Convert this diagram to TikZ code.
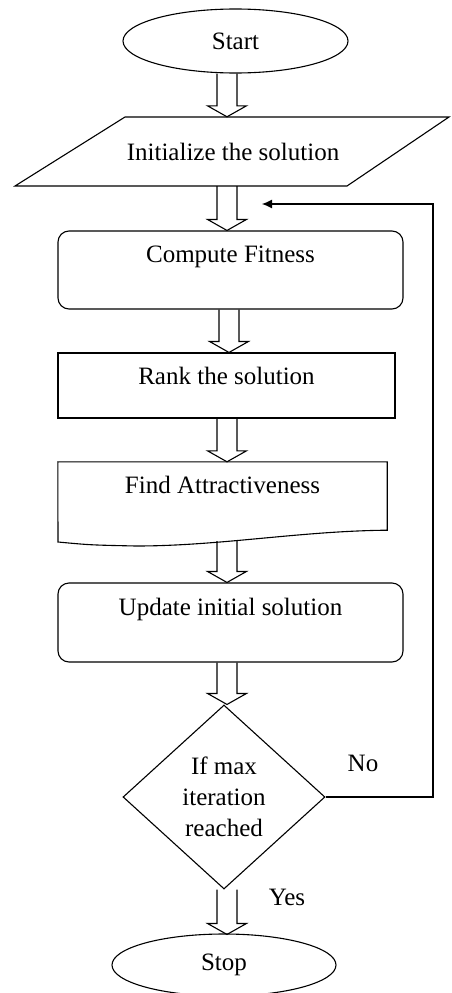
\documentclass[tikz,border=0pt]{standalone}
\usepackage{fontspec}
\setmainfont{Liberation Serif}
\usetikzlibrary{shapes.geometric,arrows.meta,calc}

\tikzset{
  outline/.style={draw=black, line width=1.1pt},
  txt/.style={font=\fontsize{25}{31}\selectfont, inner sep=0pt, align=center},
  terminal/.style={outline, ellipse, inner sep=0pt, font=\fontsize{25}{31}\selectfont},
  procbox/.style={outline, rectangle, rounded corners=11pt, inner sep=0pt},
  plainbox/.style={outline, rectangle, inner sep=0pt},
  ghostbox/.style={rectangle, inner sep=0pt},
  decision/.style={outline, diamond, inner sep=0pt, align=center,
    minimum width=202pt, minimum height=184pt, font=\fontsize{25}{31}\selectfont},
  % hollow block arrow drawn straight down from the start point to the target level
  blockarrow/.style={outline, line join=miter, to path={
    let \p1=(\tikztostart), \p2=(\tikztotarget) in
    (\x1-10pt,\y1) -- (\x1-10pt,\y2+11pt) -- (\x1-19.5pt,\y2+11pt) -- (\x1,\y2)
    -- (\x1+19.5pt,\y2+11pt) -- (\x1+10pt,\y2+11pt) -- (\x1+10pt,\y1)}},
  loopline/.style={draw=black, line width=1.1pt, -{Latex[length=10pt,width=9pt]}},
}

\begin{document}
\begin{tikzpicture}[x=1pt,y=-1pt]
  \useasboundingbox (0,0) rectangle (451,993);

  % flow axis for the block arrows
  \coordinate (ax) at (227,0);
  \coordinate (ax3) at (229,0);

  % start
  \node[terminal, minimum width=225pt, minimum height=64pt] (start) at (235.5,41) {Start};

  % initialise (parallelogram)
  \node[ghostbox, minimum width=220pt, minimum height=69pt] (init) at (233,151.5) {};
  \draw[outline] (125,117) -- (449,117) -- (347,186) -- (15,186) -- cycle;
  \node[txt] (init-t) at (233,152) {Initialize the solution};

  % compute fitness
  \node[procbox, minimum width=345pt, minimum height=78pt] (fit) at (230.5,270) {};
  \node[txt] (fit-t) at ($(fit.north)+(0,26)$) {Compute Fitness};

  % rank
  \node[plainbox, minimum width=337pt, minimum height=65pt] (rank) at (226.5,385.5) {};
  \node[txt] (rank-t) at ($(rank.north)+(0,23)$) {Rank the solution};

  % find attractiveness (document shape)
  \node[ghostbox, minimum width=329pt, minimum height=68pt] (attr) at (222.5,496) {};
  \draw[outline] (attr.south east) -- (attr.north east) -- (attr.north west) -- (58,542)
    .. controls (90,545) .. (136,546)
    .. controls (220,546) and (300,531) .. (attr.south east) -- cycle;
  \node[txt] (attr-t) at ($(attr.north)+(0,23)$) {Find Attractiveness};
  \coordinate (wave) at (227,541);

  % update
  \node[procbox, minimum width=345pt, minimum height=79pt] (upd) at (230.5,622.5) {};
  \node[txt] (upd-t) at ($(upd.north)+(0,27)$) {Update initial solution};

  % decision
  \node[decision] (dec) at (224,797) {If max\\iteration\\reached};

  % stop
  \node[terminal, minimum width=224pt, minimum height=62pt] (stop) at (224,965) {Stop};

  % block arrows
  \draw[blockarrow] (start.south -| ax) to (init.north -| ax);
  \draw[blockarrow] (init.south -| ax) to (fit.north -| ax);
  \draw[blockarrow] (fit.south -| ax3) to (rank.north -| ax3);
  \draw[blockarrow] (rank.south -| ax) to (attr.north -| ax);
  \draw[blockarrow] (wave) to (upd.north -| ax);
  \draw[blockarrow] (upd.south -| ax) to (dec.north -| ax);
  \draw[blockarrow] (dec.south -| ax) to ($(stop.north -| ax)+(0,1)$);

  % loop back
  \coordinate (loopx) at (433,204);
  \coordinate (loopend) at (262,204);
  \draw[loopline] (dec.east) -| (loopx) -- (loopend);

  % branch labels
  \node[txt] (no) at (363,763) {No};
  \node[txt] (yes) at (287,897) {Yes};
\end{tikzpicture}
\end{document}
